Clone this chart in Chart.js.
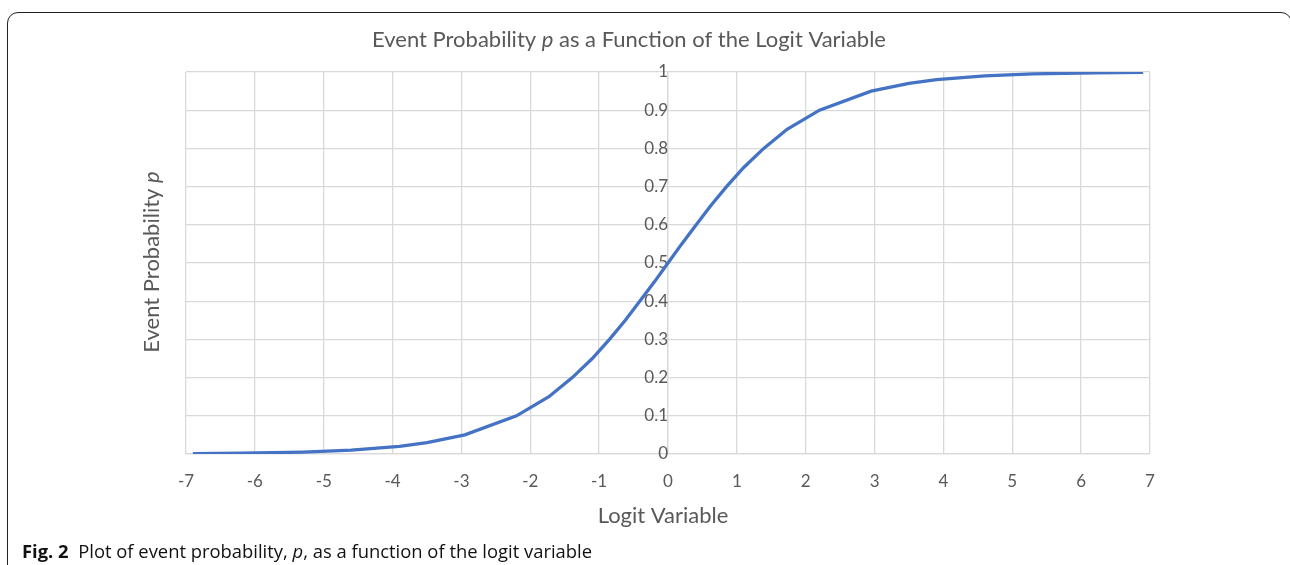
<!DOCTYPE html>
<html>
<head>
<meta charset="utf-8">
<script src="https://cdn.jsdelivr.net/npm/chart.js@4.4.0/dist/chart.umd.min.js"></script>
<style>
  html, body { margin: 0; padding: 0; background: #fff; width: 1290px; height: 565px; overflow: hidden; }
  #frame { position: absolute; left: 7px; top: 12px; width: 1285px; height: 620px; border: 1.5px solid #222; border-radius: 11px; box-sizing: border-box; }
  #wrap { position: absolute; left: 0; top: 0; width: 1290px; height: 565px; }
  #caption { position: absolute; left: 22px; top: 538px; font-family: "Open Sans", sans-serif; font-size: 18.4px; color: #111; white-space: nowrap; }
</style>
</head>
<body>
<div id="frame"></div>
<div id="wrap"><canvas id="c" width="1290" height="565"></canvas></div>
<div id="caption"><b>Fig. 2</b>&nbsp; Plot of event probability, <i>p</i>, as a function of the logit variable</div>
<script>
// Data
const logitValues = [-6.9, -6.2, -5.3, -4.6, -3.9, -3.5, -2.95, -2.2, -1.73, -1.39, -1.1, -0.85, -0.62, -0.41, -0.2, 0, 0.2, 0.41, 0.62, 0.85, 1.1, 1.39, 1.73, 2.2, 2.95, 3.5, 3.9, 4.6, 5.3, 6.2, 6.9];
const probabilities = [0.001, 0.002, 0.005, 0.01, 0.02, 0.03, 0.05, 0.1, 0.15, 0.2, 0.25, 0.3, 0.35, 0.4, 0.45, 0.5, 0.55, 0.6, 0.65, 0.7, 0.75, 0.8, 0.85, 0.9, 0.95, 0.97, 0.98, 0.99, 0.995, 0.998, 0.999];
const xTicks = [-7, -6, -5, -4, -3, -2, -1, 0, 1, 2, 3, 4, 5, 6, 7];
const yTicks = [0, 0.1, 0.2, 0.3, 0.4, 0.5, 0.6, 0.7, 0.8, 0.9, 1];

const chartTitle = "Event Probability p as a Function of the Logit Variable";
const xTitle = "Logit Variable";
const yTitle = "Event Probability p";

const FONT = "Lato, 'Open Sans', sans-serif";
const TXT = "#595959";

const points = logitValues.map((x, i) => ({ x: x, y: probabilities[i] }));

// draw text with an italic "p" token
function drawMixed(ctx, text, cx, cy, size) {
  const parts = text.split(/(\bp\b)/);
  const normal = size + "px " + FONT;
  const ital = "italic " + size + "px " + FONT;
  let total = 0;
  parts.forEach(p => { ctx.font = (p === "p") ? ital : normal; total += ctx.measureText(p).width; });
  let x = cx - total / 2;
  ctx.textAlign = "left";
  ctx.textBaseline = "middle";
  parts.forEach(p => { ctx.font = (p === "p") ? ital : normal; ctx.fillText(p, x, cy); x += ctx.measureText(p).width; });
}

const titlesPlugin = {
  id: "titles",
  afterDraw(chart) {
    const ctx = chart.ctx;
    ctx.save();
    ctx.fillStyle = TXT;
    drawMixed(ctx, chartTitle, 629, 40, 22);
    drawMixed(ctx, xTitle, 663, 516, 22);
    ctx.translate(152, 262);
    ctx.rotate(-Math.PI / 2);
    drawMixed(ctx, yTitle, 0, 0, 22);
    ctx.restore();
  }
};

new Chart(document.getElementById("c"), {
  type: "line",
  data: {
    datasets: [{
      data: points,
      borderColor: "#4472C4",
      borderWidth: 3.3,
      pointRadius: 0,
      tension: 0,
      fill: false
    }]
  },
  options: {
    responsive: false,
    animation: false,
    layout: { padding: { left: 186, right: 140, top: 72, bottom: 71 } },
    plugins: { legend: { display: false }, tooltip: { enabled: false }, title: { display: false } },
    scales: {
      x: {
        type: "linear",
        min: -7, max: 7,
        afterBuildTicks: (s) => { s.ticks = xTicks.map(v => ({ value: v })); },
        afterFit: (s) => { s.height = 40; },
        grid: { color: "#d9d9d9", lineWidth: 1.3, drawTicks: false },
        border: { color: "#d9d9d9", width: 1.3 },
        ticks: { color: TXT, font: { family: FONT, size: 17 }, padding: 17, maxRotation: 0 }
      },
      y: {
        type: "linear",
        position: { x: 0 },
        min: 0, max: 1,
        afterBuildTicks: (s) => { s.ticks = yTicks.map(v => ({ value: v })); },
        grid: { color: "#d9d9d9", lineWidth: 1.3, drawTicks: false },
        border: { color: "#d9d9d9", width: 1.3 },
        ticks: { color: TXT, font: { family: FONT, size: 17 }, padding: 10, callback: (v) => String(Math.round(v * 10) / 10) }
      }
    }
  },
  plugins: [titlesPlugin]
});
</script>
</body>
</html>
